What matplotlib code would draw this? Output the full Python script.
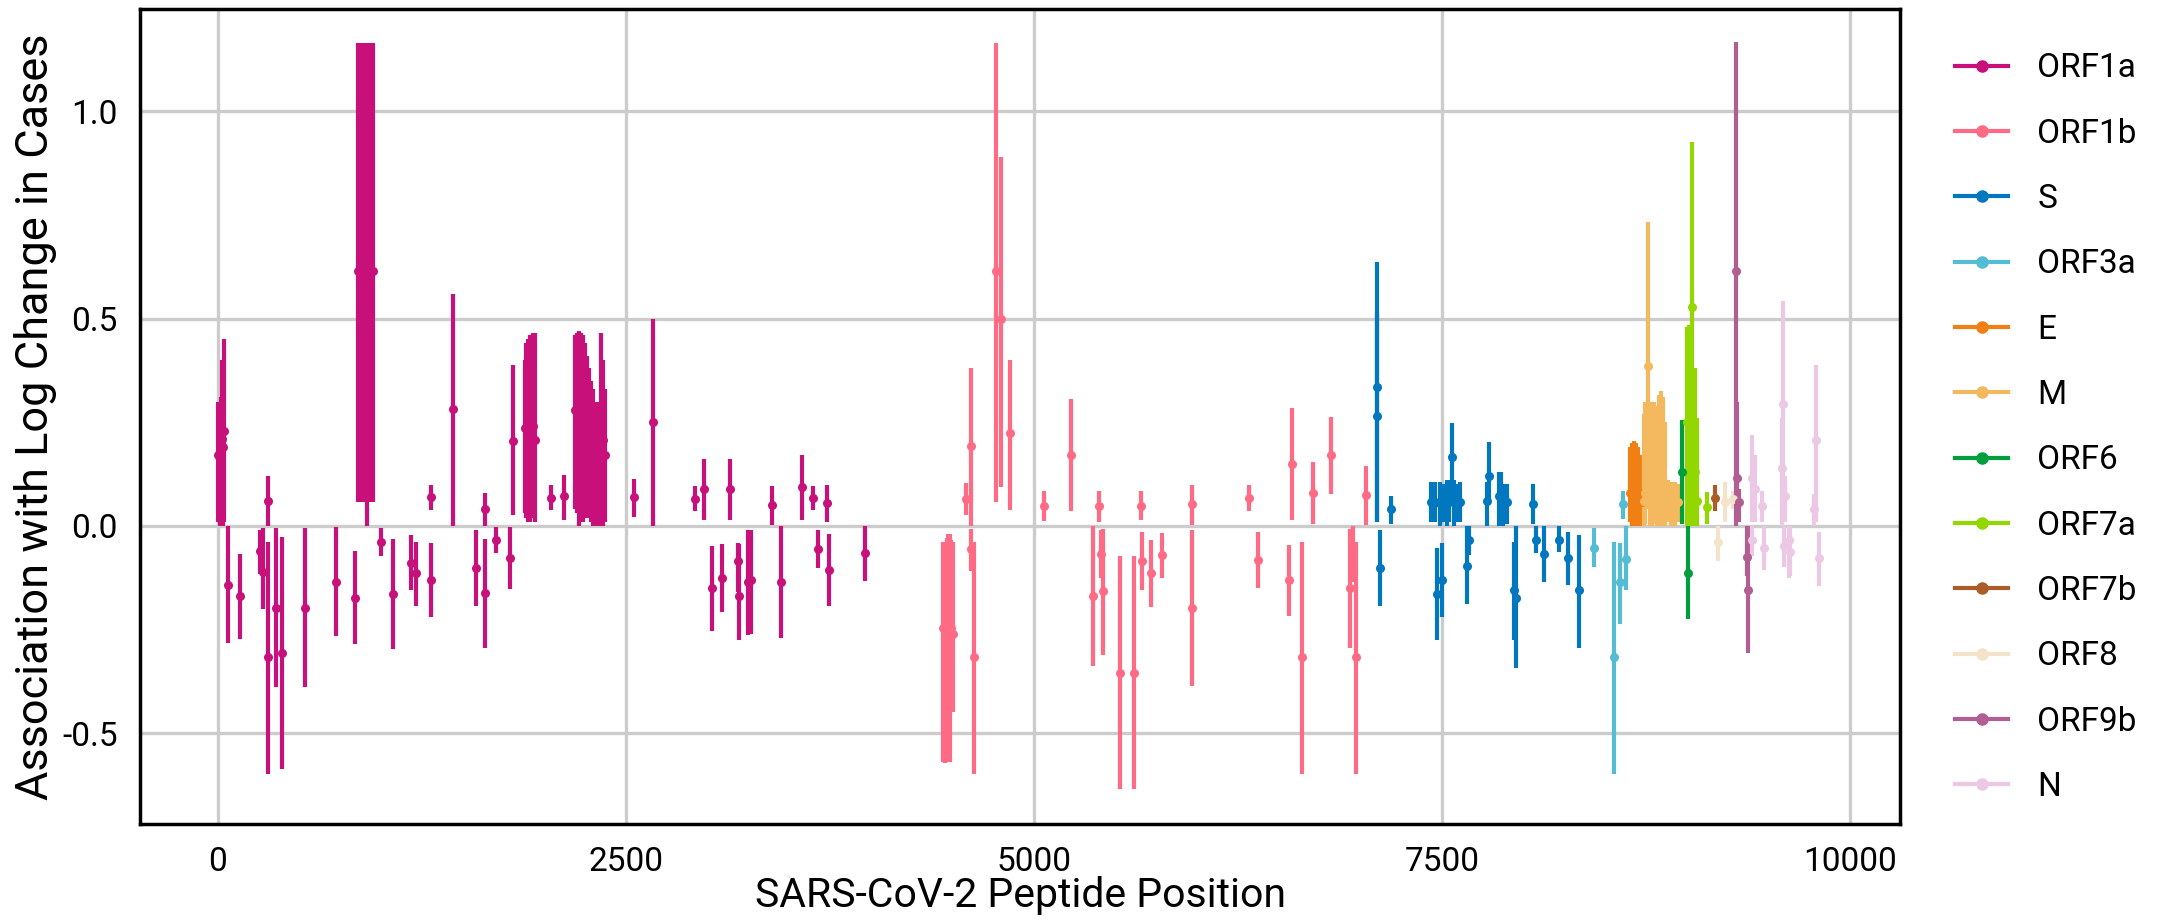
import matplotlib
matplotlib.use("Agg")
import matplotlib.pyplot as plt
from matplotlib.lines import Line2D
from matplotlib.ticker import FuncFormatter

# peptide position, estimate, lower CI, upper CI
orf1a = [
    (5, 0.17, 0.01, 0.30), (12, 0.13, 0.00, 0.27), (18, 0.16, 0.02, 0.31),
    (24, 0.21, 0.02, 0.40), (30, 0.19, 0.00, 0.37), (38, 0.23, 0.01, 0.45),
    (63, -0.142, -0.283, 0.0), (135, -0.170, -0.272, -0.069),
    (261, -0.061, -0.116, -0.009), (277, -0.112, -0.20, -0.005),
    (308, 0.061, 0.0, 0.120), (308, -0.316, -0.598, -0.038),
    (359, -0.198, -0.389, -0.006), (392, -0.306, -0.586, -0.027),
    (535, -0.198, -0.39, -0.006), (728, -0.135, -0.267, -0.003),
    (840, -0.173, -0.285, -0.061),
    (862, 0.614, 0.057, 1.165), (872, 0.614, 0.057, 1.165), (882, 0.614, 0.057, 1.165),
    (892, 0.614, 0.057, 1.165), (902, 0.614, 0.057, 1.165), (914, 0.61, 0.0, 1.165),
    (924, 0.614, 0.057, 1.165), (934, 0.614, 0.057, 1.165), (944, 0.614, 0.057, 1.165),
    (950, 0.614, 0.057, 1.165),
    (1000, -0.038, -0.072, -0.006), (1073, -0.164, -0.298, -0.031),
    (1185, -0.090, -0.154, -0.023), (1216, -0.115, -0.194, -0.038),
    (1306, 0.069, 0.037, 0.098), (1306, -0.130, -0.219, -0.042),
    (1442, 0.281, 0.0, 0.559), (1581, -0.102, -0.193, -0.011),
    (1638, 0.041, 0.0, 0.080), (1638, -0.162, -0.295, -0.031),
    (1705, -0.034, -0.065, -0.002), (1793, -0.077, -0.152, -0.002),
    (1808, 0.205, 0.025, 0.387),
    (1880, 0.235, 0.03, 0.40), (1890, 0.235, 0.02, 0.44), (1900, 0.23, 0.01, 0.45),
    (1915, 0.235, 0.01, 0.46), (1930, 0.24, 0.02, 0.465), (1945, 0.206, 0.01, 0.465),
    (2042, 0.068, 0.037, 0.098), (2124, 0.072, 0.015, 0.123),
    (2190, 0.28, 0.04, 0.46), (2200, 0.255, 0.03, 0.465), (2212, 0.26, 0.0, 0.47),
    (2225, 0.27, 0.02, 0.465), (2238, 0.26, 0.01, 0.46), (2250, 0.24, 0.05, 0.44),
    (2262, 0.22, 0.02, 0.41), (2275, 0.20, 0.03, 0.38), (2288, 0.19, 0.01, 0.35),
    (2300, 0.17, 0.0, 0.33), (2312, 0.15, 0.0, 0.30), (2325, 0.14, 0.0, 0.27),
    (2338, 0.20, 0.0, 0.30), (2350, 0.25, 0.0, 0.465), (2362, 0.206, 0.0, 0.40),
    (2372, 0.17, 0.01, 0.33),
    (2552, 0.069, 0.021, 0.114), (2665, 0.25, 0.0, 0.50),
    (2926, 0.065, 0.035, 0.095), (2981, 0.088, 0.013, 0.162),
    (3028, -0.151, -0.253, -0.049), (3089, -0.126, -0.209, -0.045),
    (3138, 0.088, 0.013, 0.162), (3190, -0.086, -0.16, -0.041),
    (3196, -0.170, -0.275, -0.045), (3250, -0.136, -0.264, -0.011),
    (3265, -0.13, -0.26, -0.011), (3393, 0.05, 0.003, 0.096),
    (3448, -0.135, -0.27, 0.0), (3579, 0.093, 0.015, 0.170),
    (3644, 0.068, 0.037, 0.096), (3675, -0.056, -0.102, -0.011),
    (3730, 0.055, 0.010, 0.098), (3746, -0.106, -0.194, -0.019),
    (3965, -0.066, -0.133, 0.0),
]
orf1b = [
    (4445, -0.247, -0.57, -0.04), (4455, -0.31, -0.572, -0.045), (4465, -0.247, -0.565, -0.03),
    (4475, -0.31, -0.57, -0.02), (4485, -0.225, -0.57, -0.02), (4495, -0.247, -0.45, -0.035),
    (4505, -0.26, -0.45, -0.04),
    (4583, 0.065, 0.025, 0.104), (4612, 0.192, 0.0, 0.38), (4612, -0.057, -0.108, -0.007),
    (4634, -0.316, -0.598, -0.038), (4770, 0.614, 0.057, 1.165), (4800, 0.50, 0.094, 0.89),
    (4853, 0.223, 0.037, 0.40), (5062, 0.049, 0.011, 0.085), (5230, 0.172, 0.035, 0.307),
    (5360, -0.170, -0.338, 0.0), (5399, 0.047, 0.010, 0.083), (5409, -0.069, -0.127, -0.011),
    (5424, -0.158, -0.311, -0.007), (5530, -0.354, -0.634, -0.074), (5613, -0.354, -0.634, -0.074),
    (5658, 0.049, 0.013, 0.083), (5664, -0.084, -0.156, -0.015), (5715, -0.115, -0.197, -0.035),
    (5782, -0.070, -0.126, -0.017), (5966, 0.052, 0.002, 0.098), (5966, -0.198, -0.386, -0.011),
    (6317, 0.068, 0.035, 0.098), (6374, -0.082, -0.150, -0.015), (6564, -0.131, -0.217, -0.046),
    (6583, 0.148, 0.013, 0.285), (6640, -0.316, -0.598, -0.038), (6710, 0.080, 0.005, 0.154),
    (6818, 0.170, 0.077, 0.263), (6935, -0.151, -0.296, -0.007), (6955, -0.069, -0.136, 0.0),
    (6971, -0.316, -0.598, -0.038), (7036, 0.075, 0.002, 0.144),
]
s_gene = [
    (7100, 0.335, 0.01, 0.636), (7104, 0.264, 0.01, 0.517), (7120, -0.102, -0.194, -0.009),
    (7188, 0.040, 0.005, 0.072), (7430, 0.057, 0.01, 0.105), (7455, 0.057, 0.01, 0.105),
    (7470, -0.165, -0.275, -0.054), (7485, 0.055, 0.0, 0.105), (7500, -0.130, -0.221, -0.041),
    (7510, 0.06, 0.01, 0.10), (7530, 0.055, 0.0, 0.11), (7545, 0.057, 0.01, 0.11),
    (7562, 0.166, 0.057, 0.248), (7575, 0.057, 0.0, 0.11), (7590, 0.06, 0.01, 0.10),
    (7610, 0.057, 0.01, 0.105), (7653, -0.096, -0.189, 0.0), (7663, -0.035, -0.070, 0.0),
    (7776, 0.059, 0.0, 0.105), (7786, 0.120, 0.057, 0.202), (7847, 0.072, 0.0, 0.131),
    (7860, 0.057, 0.0, 0.13), (7875, 0.057, 0.0, 0.10), (7898, 0.057, 0.005, 0.10),
    (7939, -0.156, -0.275, -0.038), (7953, -0.173, -0.342, 0.0), (8055, 0.053, 0.005, 0.102),
    (8075, -0.034, -0.065, 0.0), (8122, -0.069, -0.135, 0.0), (8214, -0.034, -0.064, 0.0),
    (8271, -0.077, -0.142, -0.015), (8341, -0.156, -0.294, -0.021),
]
orf3a = [
    (8428, -0.053, -0.100, -0.005), (8553, -0.316, -0.598, -0.038),
    (8591, -0.136, -0.237, -0.041), (8607, 0.052, 0.017, 0.085), (8626, -0.080, -0.154, 0.0),
]
e_gene = [
    (8650, 0.08, 0.01, 0.19), (8662, 0.10, 0.0, 0.20), (8675, 0.12, 0.01, 0.205),
    (8688, 0.09, 0.0, 0.20), (8700, 0.06, 0.01, 0.19), (8712, 0.08, 0.0, 0.17),
    (8725, 0.057, 0.01, 0.11),
]
m_gene = [
    (8735, 0.06, 0.0, 0.27), (8745, 0.08, 0.005, 0.30), (8760, 0.385, 0.04, 0.733),
    (8772, 0.06, 0.0, 0.30), (8785, 0.08, 0.0, 0.29), (8800, 0.06, 0.005, 0.30),
    (8815, 0.05, 0.0, 0.29), (8828, 0.06, 0.0, 0.315), (8842, 0.08, 0.0, 0.325),
    (8855, 0.06, 0.0, 0.31), (8867, 0.05, 0.0, 0.25), (8885, 0.057, 0.01, 0.11),
    (8905, 0.06, 0.0, 0.105), (8925, 0.05, 0.0, 0.105), (8945, 0.057, 0.01, 0.10),
]
orf6 = [(8969, 0.131, 0.005, 0.255), (9006, -0.114, -0.225, 0.0)]
orf7a = [
    (9000, 0.25, 0.0, 0.48), (9012, 0.19, 0.0, 0.484), (9022, 0.14, 0.0, 0.47),
    (9032, 0.527, 0.13, 0.926), (9042, 0.19, 0.01, 0.38), (9052, 0.13, 0.0, 0.38),
    (9060, 0.06, 0.0, 0.26), (9126, 0.045, 0.005, 0.081),
]
orf7b = [(9169, 0.067, 0.035, 0.098)]
orf8 = [(9193, -0.040, -0.084, 0.0), (9234, 0.057, 0.010, 0.106), (9282, 0.065, 0.04, 0.085)]
orf9b = [
    (9299, 0.614, 0.0, 1.168), (9305, 0.115, 0.009, 0.30), (9316, 0.057, 0.009, 0.09),
    (9367, -0.076, -0.12, 0.0), (9375, -0.156, -0.306, 0.0),
]
n_gene = [
    (9398, 0.115, 0.010, 0.218), (9398, -0.035, -0.072, 0.0), (9418, 0.090, 0.009, 0.17),
    (9459, 0.049, 0.009, 0.083), (9473, -0.054, -0.106, 0.0), (9580, 0.140, 0.0, 0.26),
    (9588, 0.293, 0.009, 0.542), (9592, -0.048, -0.1, 0.0), (9602, 0.071, 0.009, 0.12),
    (9623, -0.035, -0.127, 0.0), (9633, -0.064, -0.12, 0.0), (9776, 0.041, 0.0, 0.077),
    (9792, 0.206, 0.009, 0.387), (9806, -0.078, -0.144, -0.014),
]

genes = ['ORF1a', 'ORF1b', 'S', 'ORF3a', 'E', 'M', 'ORF6', 'ORF7a', 'ORF7b', 'ORF8', 'ORF9b', 'N']
gene_data = [orf1a, orf1b, s_gene, orf3a, e_gene, m_gene, orf6, orf7a, orf7b, orf8, orf9b, n_gene]
colors = ['#C8107A', '#FF6B85', '#0077BF', '#54BCD3', '#F07F14', '#F4B95E',
          '#009E3D', '#92D800', '#AC5C28', '#F3E3C8', '#B15F93', '#ECC8E6']

plt.rcParams['font.family'] = ['Roboto', 'DejaVu Sans']

fig = plt.figure(figsize=(21.62, 9.24), dpi=100)
ax = fig.add_axes([0.0648, 0.108, 0.8140, 0.8822])

for name, rows, c in zip(genes, gene_data, colors):
    pos = [r[0] for r in rows]
    est = [r[1] for r in rows]
    lo = [r[2] for r in rows]
    hi = [r[3] for r in rows]
    ax.vlines(pos, lo, hi, color=c, lw=3, zorder=3)
    ax.plot(pos, est, 'o', color=c, ms=6.5, mew=0, zorder=4)

ax.set_xlim(-475, 10305)
ax.set_ylim(-0.72, 1.247)
ax.set_xticks([0, 2500, 5000, 7500, 10000])
ax.set_yticks([-0.5, 0.0, 0.5, 1.0])
ax.yaxis.set_major_formatter(FuncFormatter(lambda v, p: '%.1f' % v))
ax.grid(True, color='#CCCCCC', lw=2.4)
ax.set_axisbelow(True)
ax.tick_params(length=0, labelsize=24, pad=16)
for sp in ax.spines.values():
    sp.set_color('black')
    sp.set_linewidth(2.5)

ax.set_xlabel('SARS-CoV-2 Peptide Position', fontsize=29.5, labelpad=-2)
ax.set_ylabel('Association with Log Change in Cases', fontsize=32.5, labelpad=4)

handles = [Line2D([0], [0], color=c, lw=3, marker='o', ms=8) for c in colors]
fig.legend(handles, genes, loc='center left', bbox_to_anchor=(0.9043, 0.537),
           frameon=False, fontsize=24, handlelength=1.6, handletextpad=0.87,
           labelspacing=1.0, borderpad=0, borderaxespad=0)

fig.savefig('out.png', dpi=100)
